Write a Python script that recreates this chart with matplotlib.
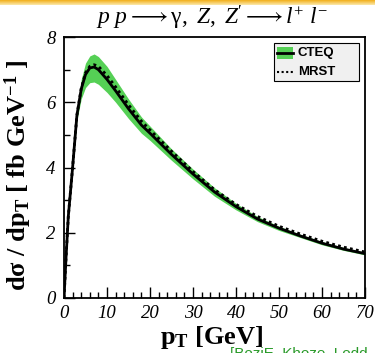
import matplotlib
matplotlib.use('Agg')
import matplotlib.pyplot as plt
import numpy as np
from matplotlib.ticker import MultipleLocator
from matplotlib.patches import Rectangle
from matplotlib.lines import Line2D

plt.rcParams['mathtext.fontset'] = 'custom'
plt.rcParams['mathtext.rm'] = 'Liberation Serif'
plt.rcParams['mathtext.it'] = 'Liberation Serif:italic'
plt.rcParams['mathtext.bf'] = 'Liberation Serif:bold'

# pT grid [GeV] and curves
pt = [0, 0.5, 1, 2, 3, 4, 5, 6, 7, 8, 10, 12, 15, 18, 20, 25, 30, 35, 40, 45, 50, 55, 60, 65, 70]
cteq = [0, 1.3, 2.5, 4.0, 5.6, 6.4, 6.85, 7.05, 7.08, 7.0, 6.7, 6.35, 5.8, 5.3, 5.05, 4.4, 3.8, 3.25, 2.8, 2.42, 2.14, 1.9, 1.68, 1.5, 1.36]
cteq_hi = [0, 1.3, 2.5, 4.05, 5.75, 6.7, 7.2, 7.42, 7.48, 7.4, 7.1, 6.7, 6.1, 5.55, 5.27, 4.57, 3.95, 3.38, 2.9, 2.5, 2.2, 1.95, 1.73, 1.55, 1.4]
cteq_lo = [0, 1.3, 2.5, 3.95, 5.45, 6.1, 6.45, 6.6, 6.62, 6.55, 6.3, 6.0, 5.5, 5.05, 4.83, 4.22, 3.65, 3.12, 2.7, 2.34, 2.07, 1.85, 1.63, 1.46, 1.32]
mrst = [0, 1.3, 2.5, 4.0, 5.6, 6.42, 6.9, 7.1, 7.15, 7.1, 6.82, 6.47, 5.92, 5.42, 5.15, 4.5, 3.88, 3.32, 2.87, 2.5, 2.2, 1.96, 1.74, 1.56, 1.41]
xticks = [0, 10, 20, 30, 40, 50, 60, 70]
yticks = [0, 2, 4, 6, 8]
names = ['CTEQ', 'MRST']

W, H = 375, 353
green = '#55d055'

fig = plt.figure(figsize=(3.75, 3.53), dpi=100)

# slide header strip
bar = fig.add_axes([0, 1 - 5/H, 1, 5/H])
grad = np.linspace(0, 1, 10).reshape(-1, 1)
bar.imshow(grad, aspect='auto', cmap=matplotlib.colors.LinearSegmentedColormap.from_list('b', ['#f2b01e', '#fbe7a6']))
bar.axis('off')

ax = fig.add_axes([64/W, 55/H, 301/W, 261/H])
ax.fill_between(pt, cteq_lo, cteq_hi, color=green, lw=0)
ax.plot(pt, cteq, color='black', lw=2)
ax.plot(pt, mrst, color='black', lw=2, ls=(0, (1, 1.2)))

ax.set_xlim(0, 70)
ax.set_ylim(0, 8)
ax.set_xticks(xticks)
ax.set_xticklabels([str(t) for t in xticks], family='Liberation Serif', style='italic', fontsize=13.5)
ax.set_yticks(yticks)
ax.set_yticklabels([str(t) for t in yticks], family='Liberation Serif', style='italic', fontsize=13.5)
ax.xaxis.set_minor_locator(MultipleLocator(2))
ax.yaxis.set_minor_locator(MultipleLocator(1))
ax.tick_params(which='both', direction='in', top=False, right=False, width=1)
ax.tick_params(which='major', length=8)
ax.tick_params(which='minor', length=4)
ax.tick_params(axis='x', pad=5)
ax.tick_params(axis='y', pad=6)
for s in ax.spines.values():
    s.set_linewidth(1.3)

ax.set_xlabel(r'p$_{\mathbf{T}}$ [GeV]', family='Liberation Serif', fontweight='bold', fontsize=19)
ax.xaxis.set_label_coords(0.49, -0.098)
ax.set_ylabel(r'dσ / dp$_{\mathbf{T}}$ [ fb GeV$^{\mathbf{-1}}$ ]', family='Liberation Serif', fontweight='bold', fontsize=19)
ax.yaxis.set_label_coords(-0.10, 0.47)
fig.text(212/W, 1 - 18/H, r"$p\ p \longrightarrow \mathrm{\gamma},\ Z,\ Z\mathrm{'} \longrightarrow l^{+}\ l^{-}$",
         ha='center', va='center', fontsize=17)

# legend box, drawn the way the reference has it
fig.patches.append(Rectangle((274/W, 1 - 81/H), 85/W, 38/H, transform=fig.transFigure,
                             facecolor='#f0f0f0', edgecolor='black', lw=0.8, zorder=5))
fig.patches.append(Rectangle((277/W, 1 - 59/H), 16/W, 12/H, transform=fig.transFigure,
                             facecolor=green, lw=0, zorder=6))
fig.lines.append(Line2D([277/W, 293/W], [1 - 53/H, 1 - 53/H], transform=fig.transFigure,
                        color='black', lw=2, zorder=7))
fig.lines.append(Line2D([277/W, 293/W], [1 - 72/H, 1 - 72/H], transform=fig.transFigure,
                        color='black', lw=1.5, ls=(0, (1, 1.2)), zorder=7))
for i, name in enumerate(names):
    fig.text(298/W, 1 - (53 + 19*i)/H, name, family='Liberation Sans', weight='bold',
             fontsize=9.5, va='center', ha='left', zorder=8)

fig.text(230/W, 6/H, '[BoziE, Khoze, Lodd', color='#2a9a2a', fontsize=11, va='top', family='Liberation Sans')

fig.savefig('out.png', dpi=100)
